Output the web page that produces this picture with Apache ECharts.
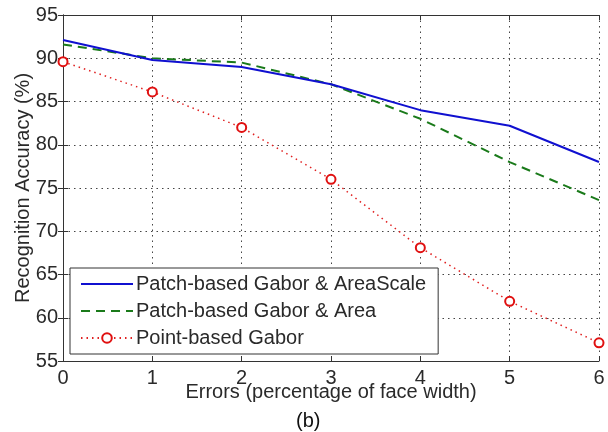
<!DOCTYPE html>
<html><head><meta charset="utf-8">
<script src="https://cdn.jsdelivr.net/npm/echarts@6/dist/echarts.min.js"></script>
<style>html,body{margin:0;padding:0;background:#fff}#c{width:608px;height:432px}</style>
</head><body><div id="c"></div>
<script>
const errors = [0, 1, 2, 3, 4, 5, 6];
const areaScale = [92.1, 89.8, 89.0, 87.0, 84.0, 82.2, 78.0];
const area = [91.6, 90.0, 89.5, 87.0, 83.0, 78.0, 73.6];
const pointGabor = [89.6, 86.1, 82.0, 76.0, 68.1, 61.9, 57.1];
const seriesNames = ['Patch-based Gabor & AreaScale', 'Patch-based Gabor & Area', 'Point-based Gabor'];
const xTicks = [0, 6, 1];
const yTicks = [55, 95, 5];

const pair = arr => errors.map((e, i) => [e, arr[i]]);
const font = 'Liberation Sans, Arial, sans-serif';
const txt = '#2a2a2a';
const chart = echarts.init(document.getElementById('c'));
const gridStyle = {show: true, lineStyle: {type: [1.5, 4], color: '#444', width: 1}};
chart.setOption({
  animation: false,
  grid: {left: 63, top: 15, right: 9, bottom: 71, containLabel: false, outerBoundsMode: 'none'},
  xAxis: [{
    type: 'value', min: xTicks[0], max: xTicks[1], interval: xTicks[2],
    name: 'Errors (percentage of face width)', nameLocation: 'middle', nameGap: 21, nameMoveOverlap: false,
    nameTextStyle: {fontFamily: font, fontSize: 20, color: txt},
    axisLine: {lineStyle: {color: '#333', width: 1}},
    axisTick: {inside: true, length: 5, lineStyle: {color: '#333'}},
    axisLabel: {fontFamily: font, fontSize: 20, color: txt, margin: 7},
    splitLine: gridStyle
  }, {
    type: 'value', min: xTicks[0], max: xTicks[1], interval: xTicks[2], position: 'top',
    axisLine: {show: true, lineStyle: {color: '#333', width: 1}},
    axisTick: {inside: true, length: 5, lineStyle: {color: '#333'}},
    axisLabel: {show: false}, splitLine: {show: false}
  }],
  yAxis: [{
    type: 'value', min: yTicks[0], max: yTicks[1], interval: yTicks[2],
    name: 'Recognition Accuracy (%)', nameLocation: 'middle', nameGap: 30, nameMoveOverlap: false,
    nameTextStyle: {fontFamily: font, fontSize: 20, color: txt},
    axisLine: {show: true, lineStyle: {color: '#333', width: 1}},
    axisTick: {show: true, inside: true, length: 5, lineStyle: {color: '#333'}},
    axisLabel: {fontFamily: font, fontSize: 20, color: txt, margin: 5},
    splitLine: gridStyle
  }, {
    type: 'value', min: yTicks[0], max: yTicks[1], interval: yTicks[2], position: 'right',
    axisLine: {show: true, lineStyle: {color: '#333', width: 1}},
    axisTick: {show: true, inside: true, length: 5, lineStyle: {color: '#333'}},
    axisLabel: {show: false}, splitLine: {show: false}
  }],
  legend: {
    orient: 'vertical', left: 70, top: 268,
    backgroundColor: '#fff', borderColor: '#333', borderWidth: 1, borderRadius: 0,
    padding: [6, 12, 6, 10], itemGap: 7, itemWidth: 52, itemHeight: 12,
    textStyle: {fontFamily: font, fontSize: 20, color: txt, padding: [0, 0, 0, -2]},
    data: [
      {name: seriesNames[0], itemStyle: {opacity: 0}},
      {name: seriesNames[1], itemStyle: {opacity: 0}},
      {name: seriesNames[2]}
    ]
  },
  series: [{
    name: seriesNames[0], type: 'line', data: pair(areaScale), symbol: 'none',
    lineStyle: {color: '#1010d0', width: 2}, itemStyle: {color: '#1010d0'}, z: 3
  }, {
    name: seriesNames[1], type: 'line', data: pair(area), symbol: 'none',
    lineStyle: {color: '#1a7a1a', width: 2, type: [9, 6]}, itemStyle: {color: '#1a7a1a'}, z: 2
  }, {
    name: seriesNames[2], type: 'line', data: pair(pointGabor), symbol: 'emptyCircle', symbolSize: 9,
    showSymbol: true, showAllSymbol: true,
    lineStyle: {color: '#e02020', width: 1.5, type: [1.5, 4]},
    itemStyle: {color: '#e01010', borderColor: '#e01010', borderWidth: 2}, z: 4
  }],
  graphic: [{
    type: 'text', left: 296, top: 411,
    style: {text: '(b)', fontFamily: font, fontSize: 20, fill: '#111'}
  }]
});
</script></body></html>
